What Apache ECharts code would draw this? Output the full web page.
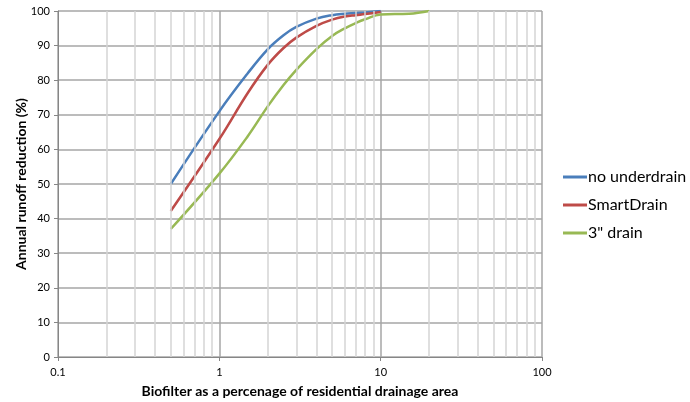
<!DOCTYPE html>
<html>
<head>
<meta charset="utf-8">
<script src="https://cdn.jsdelivr.net/npm/echarts@6/dist/echarts.min.js"></script>
<style>
html,body{margin:0;padding:0;background:#fff;}
#chart{width:690px;height:402px;}
</style>
</head>
<body>
<div id="chart"></div>
<script>
// values
var xNoUnder = [0.5, 1, 1.5, 2, 2.5, 3, 4, 5, 6, 7, 8, 10];
var yNoUnder = [50, 71, 82, 89, 93, 95.4, 97.8, 98.8, 99.2, 99.4, 99.6, 100];

var xSmart = [0.5, 1, 1.5, 2, 2.5, 3, 4, 5, 6, 7, 8, 10];
var ySmart = [42.2, 63, 76.3, 84.5, 89.3, 92.3, 95.7, 97.5, 98.4, 98.8, 99.1, 99.7];

var xDrain3 = [0.5, 1, 1.5, 2, 2.5, 3, 4, 5, 6, 7, 8, 10, 15, 20];
var yDrain3 = [37, 53, 63.8, 72.5, 78.6, 83, 89, 92.8, 95, 96.5, 97.6, 99, 99.2, 100];

var seriesNames = ['no underdrain', 'SmartDrain', '3" drain'];
var seriesColors = ['#4a7ebb', '#be4b48', '#98b954'];

// minor log gridlines (2..9 of each decade)
var minorTicks = [0.2,0.3,0.4,0.5,0.6,0.7,0.8,0.9, 2,3,4,5,6,7,8,9, 20,30,40,50,60,70,80,90];

function $map(arr, fn){
	var out = [];
	for(var i = 0; i < arr.length; i++){ out.push(fn(arr[i], i)); }
	return out;
}
function pairs(xs, ys){
	return $map(xs, function(v, i){ return [v, ys[i]]; });
}

var chart = echarts.init(document.getElementById('chart'));
var fontFam = 'Lato, "Open Sans", sans-serif';

function curve(idx, xs, ys){
	return {
		name: seriesNames[idx],
		type: 'line',
		smooth: 0.4,
		showSymbol: false,
		z: 3,
		lineStyle: {color: seriesColors[idx], width: 2.5},
		itemStyle: {color: seriesColors[idx]},
		data: pairs(xs, ys)
	};
}

var option = {
	animation: false,
	backgroundColor: '#fff',
	grid: {left: 58, right: 148, top: 11, bottom: 45, containLabel: false, outerBoundsMode: 'none'},
	legend: {
		orient: 'vertical',
		left: 563,
		top: 169,
		padding: 0,
		itemWidth: 24,
		itemHeight: 3,
		itemGap: 12,
		icon: 'rect',
		data: seriesNames,
		textStyle: {fontFamily: fontFam, fontSize: 16, color: '#000', padding: [0,0,0,-4]}
	},
	xAxis: {
		type: 'log',
		logBase: 10,
		min: 0.1,
		max: 100,
		name: 'Biofilter as a percenage of residential drainage area',
		nameLocation: 'middle',
		nameGap: 27,
		nameMoveOverlap: false,
		nameTextStyle: {fontFamily: fontFam, fontSize: 14, fontWeight: 'bold', color: '#000'},
		axisLine: {show: true, lineStyle: {color: '#868686', width: 1}},
		axisTick: {show: true, length: 4, lineStyle: {color: '#868686'}},
		axisLabel: {fontFamily: fontFam, fontSize: 11, color: '#000', margin: 10,
			formatter: function(v){ return String(v); }},
		splitLine: {show: true, lineStyle: {color: '#a6a6a6', width: 1.5}}
	},
	yAxis: {
		type: 'value',
		min: 0,
		max: 100,
		interval: 10,
		name: 'Annual runoff reduction (%)',
		nameLocation: 'middle',
		nameGap: 30,
		nameMoveOverlap: false,
		nameTextStyle: {fontFamily: fontFam, fontSize: 14, fontWeight: 'bold', color: '#000'},
		axisLine: {show: true, lineStyle: {color: '#868686', width: 1}},
		axisTick: {show: true, length: 4, lineStyle: {color: '#868686'}},
		axisLabel: {fontFamily: fontFam, fontSize: 11, color: '#000', margin: 8},
		splitLine: {show: true, lineStyle: {color: '#a6a6a6', width: 1.5}}
	},
	series: [
		{
			// holder for the minor vertical gridlines
			name: 'minor',
			type: 'line',
			data: [],
			z: 1,
			silent: true,
			markLine: {
				silent: true,
				symbol: ['none', 'none'],
				label: {show: false},
				animation: false,
				lineStyle: {color: '#d4d4d4', width: 1.5, type: 'solid'},
				data: $map(minorTicks, function(v){ return {xAxis: v}; })
			}
		},
		curve(0, xNoUnder, yNoUnder),
		curve(1, xSmart, ySmart),
		curve(2, xDrain3, yDrain3)
	]
};
chart.setOption(option);
</script>
</body>
</html>
